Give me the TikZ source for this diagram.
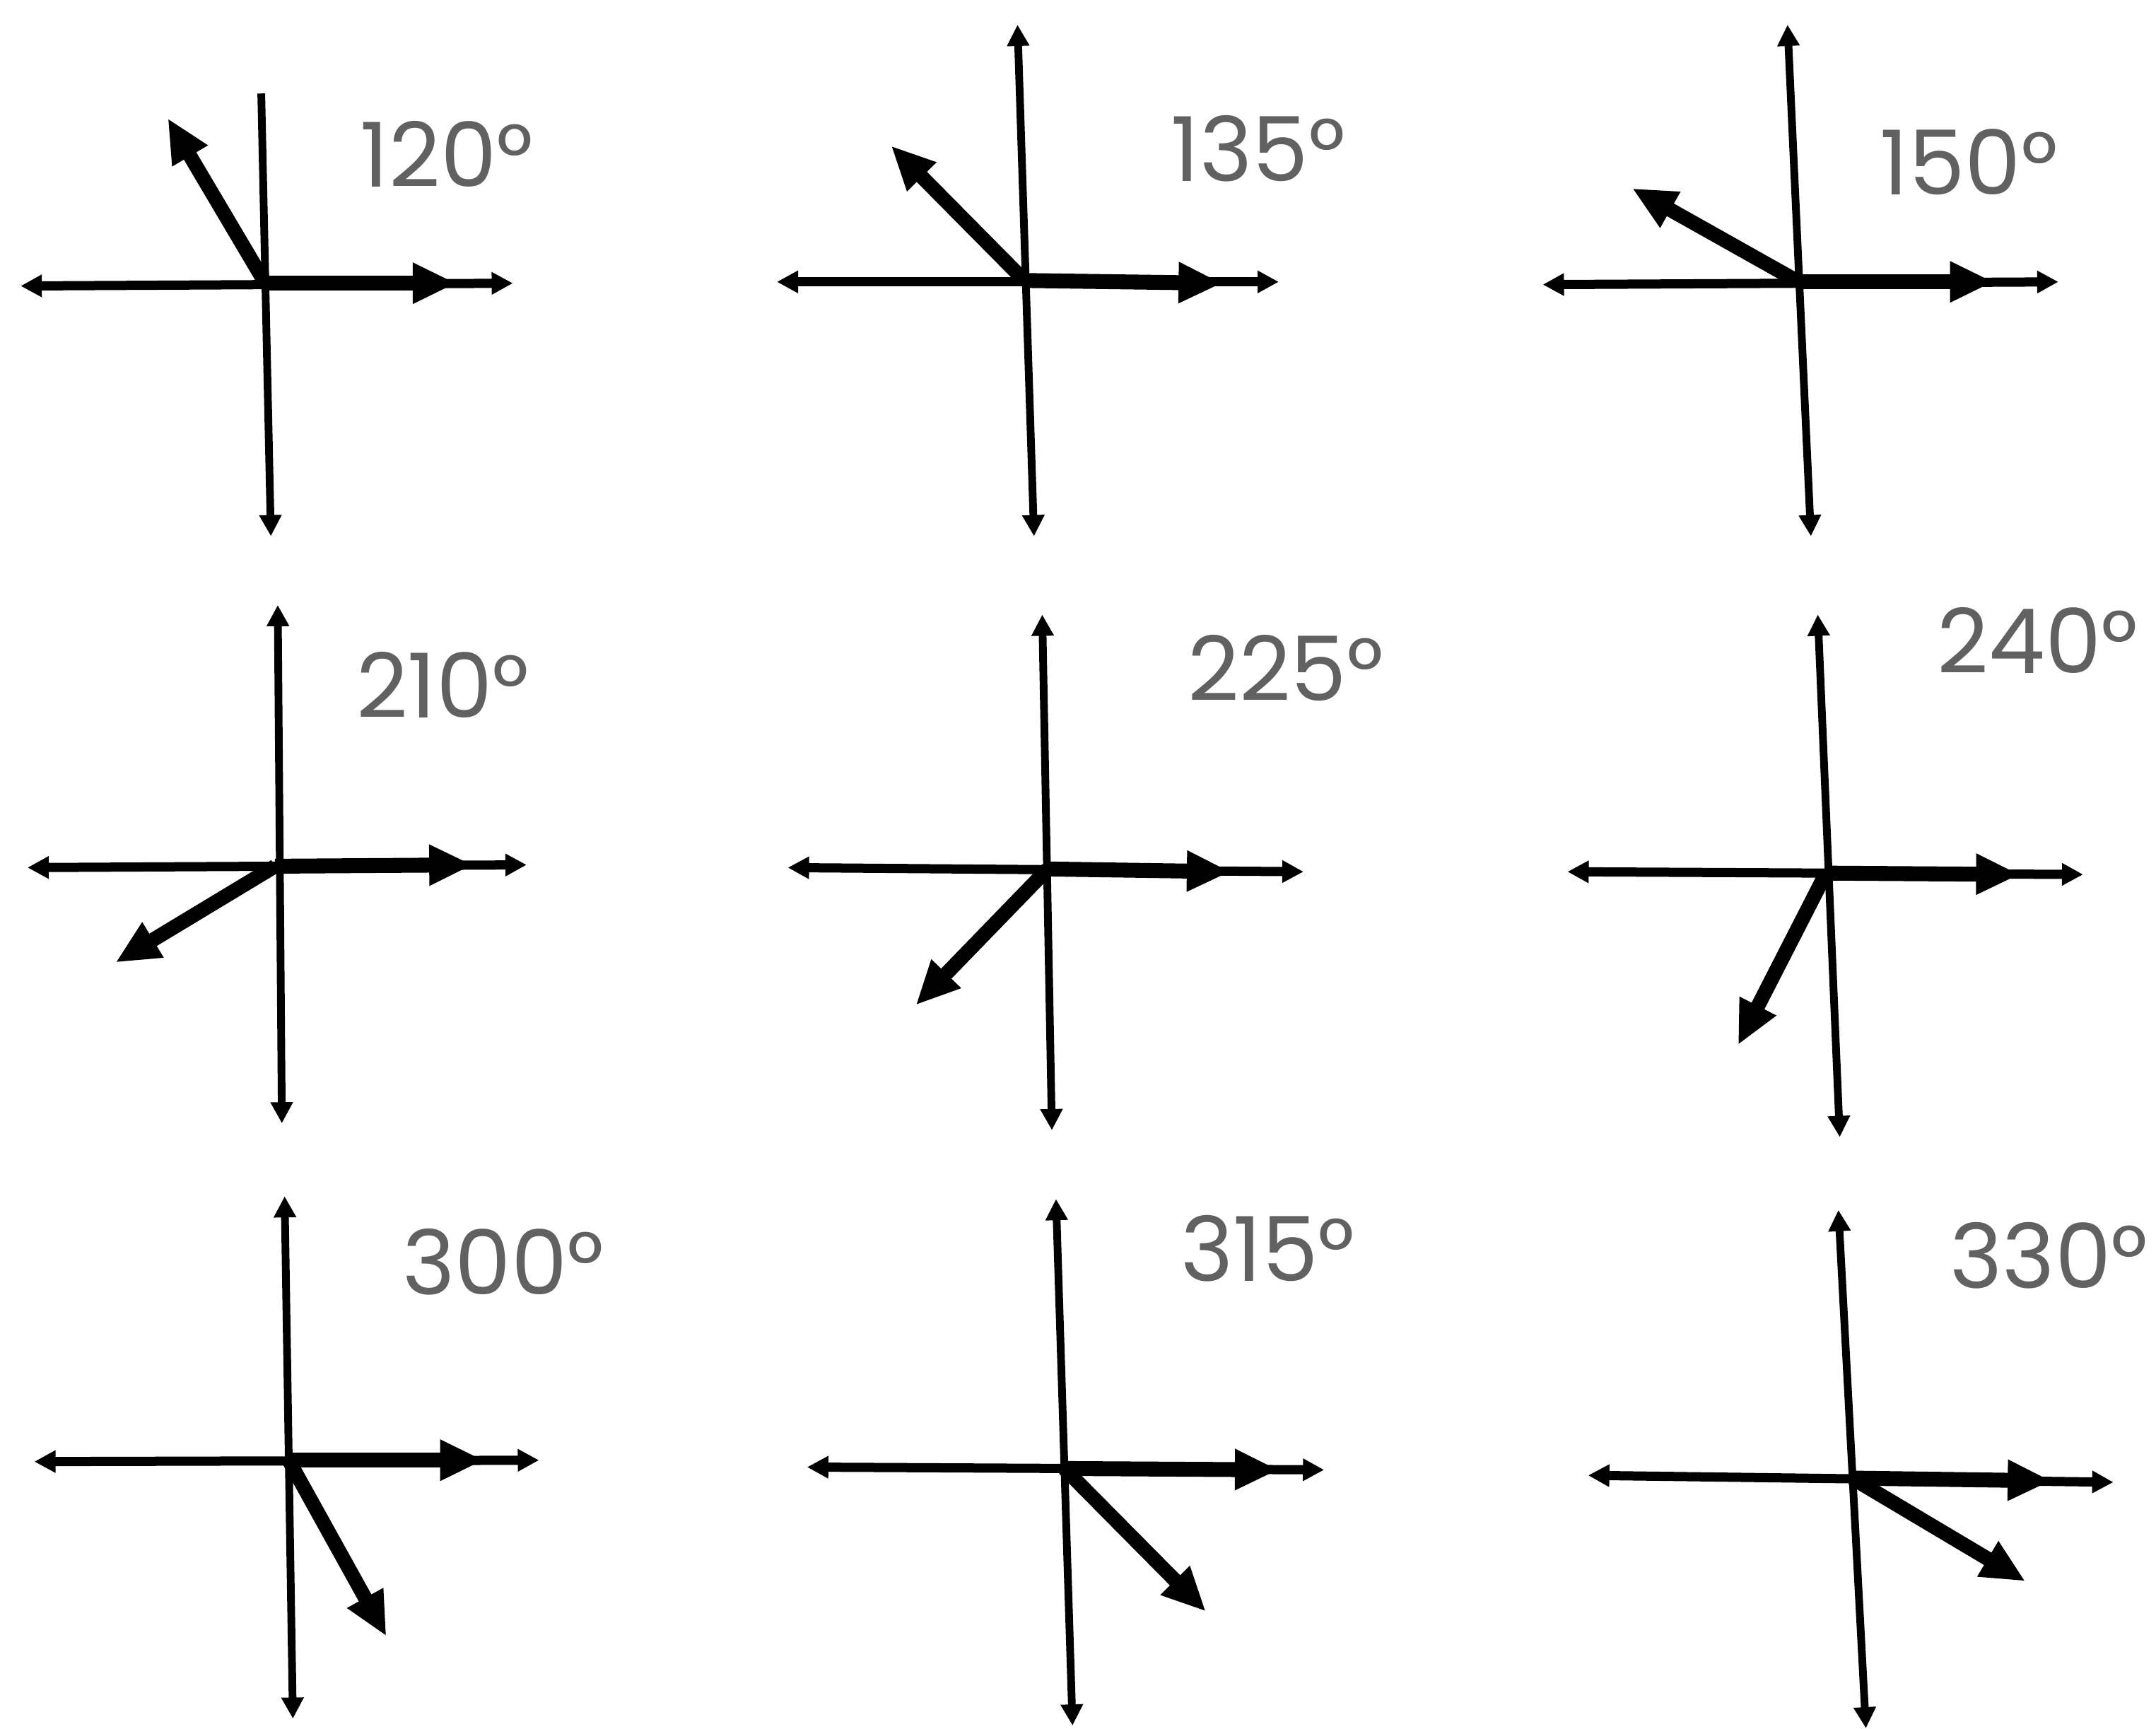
\documentclass[tikz,border=0pt]{standalone}
\usepackage{fontspec}
\newfontfamily\hand{Poppins}
\usetikzlibrary{arrows.meta}
\begin{document}
\begin{tikzpicture}[x=0.01945cm,y=-0.01945cm,
  smalltip/.tip={Triangle[length=0.3cm,width=0.3cm]},
  bigtip/.tip={Triangle[length=0.62cm,width=0.54cm]},
  haxis/.style={line width=3.7pt,smalltip-smalltip},
  vaxis/.style={line width=3.1pt,smalltip-smalltip},
  vaxisnotop/.style={line width=3.1pt,-smalltip},
  thickx/.style={line width=6pt,-bigtip},
  vec/.style={line width=5.8pt,-bigtip},
  lab/.style={text=black!62,font=\hand\fontsize{36}{40}\selectfont,inner sep=0pt}]
\useasboundingbox (0,0) rectangle (1568,1257);
\fill[white] (0,0) rectangle (1568,1257);
% ---------- panel 1: 120
\coordinate (o1) at (193,206);
\coordinate (l1a) at (15,208); \coordinate (r1a) at (373,206);
\coordinate (t1a) at (190,68); \coordinate (b1a) at (197,390);
\coordinate (x1) at (332,206); \coordinate (v1) at (122,86);
\draw[haxis] (l1a) -- (r1a);
\draw[vaxisnotop] (t1a) -- (b1a);
\draw[thickx] (o1) -- (x1);
\draw[vec] (o1) -- (v1);
\node[lab] (n1) at (325,112) {120°};
% ---------- panel 2: 135
\coordinate (o2) at (745,204);
\coordinate (l2a) at (565,205); \coordinate (r2a) at (930,205);
\coordinate (t2a) at (740,18); \coordinate (b2a) at (752,390);
\coordinate (x2) at (889,206); \coordinate (v2) at (648,106);
\draw[haxis] (l2a) -- (r2a);
\draw[vaxis] (t2a) -- (b2a);
\draw[thickx] (o2) -- (x2);
\draw[vec] (o2) -- (v2);
\node[lab] (n2) at (915,108) {135°};
% ---------- panel 3: 150
\coordinate (o3) at (1308,205);
\coordinate (l3a) at (1122,207); \coordinate (r3a) at (1497,205);
\coordinate (t3a) at (1300,18); \coordinate (b3a) at (1317,390);
\coordinate (x3) at (1450,205); \coordinate (v3) at (1187,137);
\draw[haxis] (l3a) -- (r3a);
\draw[vaxis] (t3a) -- (b3a);
\draw[thickx] (o3) -- (x3);
\draw[vec] (o3) -- (v3);
\node[lab] (n3) at (1432,118) {150°};
% ---------- panel 4: 210
\coordinate (o4) at (200,630);
\coordinate (l4a) at (20,631); \coordinate (r4a) at (383,629);
\coordinate (t4a) at (202,440); \coordinate (b4a) at (205,817);
\coordinate (x4) at (344,629); \coordinate (v4) at (84,700);
\draw[haxis] (l4a) -- (r4a);
\draw[vaxis] (t4a) -- (b4a);
\draw[thickx] (o4) -- (x4);
\draw[vec] (o4) -- (v4);
\node[lab] (n4) at (322,498) {210°};
% ---------- panel 5: 225
\coordinate (o5) at (762,632);
\coordinate (l5a) at (573,631); \coordinate (r5a) at (948,634);
\coordinate (t5a) at (758,447); \coordinate (b5a) at (765,822);
\coordinate (x5) at (895,634); \coordinate (v5) at (666,731);
\draw[haxis] (l5a) -- (r5a);
\draw[vaxis] (t5a) -- (b5a);
\draw[thickx] (o5) -- (x5);
\draw[vec] (o5) -- (v5);
\node[lab] (n5) at (935,486) {225°};
% ---------- panel 6: 240
\coordinate (o6) at (1328,635);
\coordinate (l6a) at (1140,634); \coordinate (r6a) at (1515,636);
\coordinate (t6a) at (1322,447); \coordinate (b6a) at (1338,827);
\coordinate (x6) at (1469,636); \coordinate (v6) at (1264,760);
\draw[haxis] (l6a) -- (r6a);
\draw[vaxis] (t6a) -- (b6a);
\draw[thickx] (o6) -- (x6);
\draw[vec] (o6) -- (v6);
\node[lab] (n6) at (1482,466) {240°};
% ---------- panel 7: 300
\coordinate (o7) at (210,1062);
\coordinate (l7a) at (25,1063); \coordinate (r7a) at (392,1062);
\coordinate (t7a) at (207,870); \coordinate (b7a) at (213,1250);
\coordinate (x7) at (352,1062); \coordinate (v7) at (281,1190);
\draw[haxis] (l7a) -- (r7a);
\draw[vaxis] (t7a) -- (b7a);
\draw[thickx] (o7) -- (x7);
\draw[vec] (o7) -- (v7);
\node[lab] (n7) at (366,918) {300°};
% ---------- panel 8: 315
\coordinate (o8) at (774,1068);
\coordinate (l8a) at (587,1067); \coordinate (r8a) at (963,1069);
\coordinate (t8a) at (768,872); \coordinate (b8a) at (780,1255);
\coordinate (x8) at (930,1069); \coordinate (v8) at (877,1172);
\draw[haxis] (l8a) -- (r8a);
\draw[vaxis] (t8a) -- (b8a);
\draw[thickx] (o8) -- (x8);
\draw[vec] (o8) -- (v8);
\node[lab] (n8) at (922,908) {315°};
% ---------- panel 9: 330
\coordinate (o9) at (1347,1075);
\coordinate (l9a) at (1155,1073); \coordinate (r9a) at (1537,1078);
\coordinate (t9a) at (1337,880); \coordinate (b9a) at (1357,1257);
\coordinate (x9) at (1492,1077); \coordinate (v9) at (1473,1150);
\draw[haxis] (l9a) -- (r9a);
\draw[vaxis] (t9a) -- (b9a);
\draw[thickx] (o9) -- (x9);
\draw[vec] (o9) -- (v9);
\node[lab] (n9) at (1490,913) {330°};
\end{tikzpicture}
\end{document}
